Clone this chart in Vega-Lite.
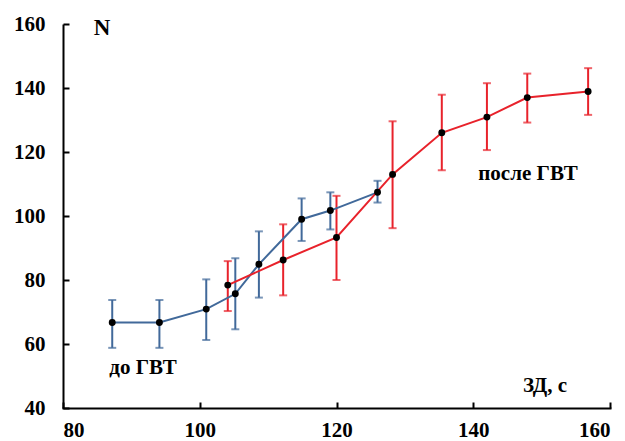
{
  "$schema": "https://vega.github.io/schema/vega-lite/v6.json",
  "width": 547,
  "height": 384,
  "autosize": {"type": "none"},
  "padding": {"left": 63, "top": 24, "right": 15, "bottom": 33},
  "background": "white",
  "config": {
    "view": {"stroke": null},
    "font": "Liberation Serif",
    "axis": {
      "grid": false,
      "domainColor": "black",
      "domainWidth": 2,
      "tickColor": "black",
      "tickWidth": 2,
      "labelFont": "Liberation Serif",
      "labelFontWeight": "bold",
      "labelFontSize": 21,
      "labelColor": "black",
      "title": null
    }
  },
  "datasets": {
    "pts": [
      {"series": "до ГВТ", "x": 87.2, "y": 66.7, "lo": 58.8, "hi": 73.75},
      {"series": "до ГВТ", "x": 94.1, "y": 66.7, "lo": 58.8, "hi": 73.75},
      {"series": "до ГВТ", "x": 100.95, "y": 70.9, "lo": 61.25, "hi": 80.2},
      {"series": "до ГВТ", "x": 105.2, "y": 75.7, "lo": 64.6, "hi": 86.8},
      {"series": "до ГВТ", "x": 108.65, "y": 84.9, "lo": 74.5, "hi": 95.2},
      {"series": "до ГВТ", "x": 114.9, "y": 99.0, "lo": 92.2, "hi": 105.5},
      {"series": "до ГВТ", "x": 119.1, "y": 101.7, "lo": 95.8, "hi": 107.4},
      {"series": "до ГВТ", "x": 126.0, "y": 107.4, "lo": 104.2, "hi": 111.0},
      {"series": "после ГВТ", "x": 104.1, "y": 78.4, "lo": 70.3, "hi": 85.9},
      {"series": "после ГВТ", "x": 112.2, "y": 86.25, "lo": 75.2, "hi": 97.4},
      {"series": "после ГВТ", "x": 120.0, "y": 93.3, "lo": 80.0, "hi": 106.3},
      {"series": "после ГВТ", "x": 128.2, "y": 113.0, "lo": 96.2, "hi": 129.6},
      {"series": "после ГВТ", "x": 135.4, "y": 126.0, "lo": 114.3, "hi": 137.9},
      {"series": "после ГВТ", "x": 142.0, "y": 130.9, "lo": 120.6, "hi": 141.5},
      {"series": "после ГВТ", "x": 147.9, "y": 137.0, "lo": 129.2, "hi": 144.5},
      {"series": "после ГВТ", "x": 156.8, "y": 138.9, "lo": 131.6, "hi": 146.2}
    ],
    "labels": [
      {"label": "до ГВТ", "x": 91.7, "y": 52.5},
      {"label": "после ГВТ", "x": 148.0, "y": 113.0},
      {"label": "ЗД, с", "x": 150.5, "y": 46.8}
    ],
    "title": [
      {"label": "N", "x": 85.7, "y": 158.7}
    ]
  },
  "layer": [
    {
      "data": {"name": "pts"},
      "mark": {"type": "rule", "strokeWidth": 2},
      "encoding": {
        "x": {"field": "x", "type": "quantitative", "scale": {"domain": [80, 160], "nice": false, "zero": false},
              "axis": {"values": [80, 100, 120, 140, 160], "tickSize": -6, "labelPadding": 17, "domainCap": "square"}},
        "y": {"field": "lo", "type": "quantitative", "scale": {"domain": [40, 160], "nice": false, "zero": false},
              "axis": {"values": [40, 60, 80, 100, 120, 140, 160], "tickSize": -6, "labelPadding": 24}},
        "y2": {"field": "hi"},
        "color": {"field": "series", "type": "nominal", "scale": {"domain": ["до ГВТ", "после ГВТ"], "range": ["#41699a", "#e8222b"]}, "legend": null}
      }
    },
    {
      "data": {"name": "pts"},
      "mark": {"type": "tick", "orient": "horizontal", "size": 8, "thickness": 2},
      "encoding": {
        "x": {"field": "x", "type": "quantitative"},
        "y": {"field": "lo", "type": "quantitative"},
        "color": {"field": "series", "type": "nominal", "legend": null}
      }
    },
    {
      "data": {"name": "pts"},
      "mark": {"type": "tick", "orient": "horizontal", "size": 8, "thickness": 2},
      "encoding": {
        "x": {"field": "x", "type": "quantitative"},
        "y": {"field": "hi", "type": "quantitative"},
        "color": {"field": "series", "type": "nominal", "legend": null}
      }
    },
    {
      "data": {"name": "pts"},
      "mark": {"type": "line", "strokeWidth": 2},
      "encoding": {
        "x": {"field": "x", "type": "quantitative"},
        "y": {"field": "y", "type": "quantitative"},
        "color": {"field": "series", "type": "nominal", "legend": null},
        "order": {"field": "x", "type": "quantitative"}
      }
    },
    {
      "data": {"name": "pts"},
      "mark": {"type": "point", "filled": true, "color": "black", "size": 48, "opacity": 1},
      "encoding": {
        "x": {"field": "x", "type": "quantitative"},
        "y": {"field": "y", "type": "quantitative"}
      }
    },
    {
      "data": {"name": "labels"},
      "mark": {"type": "text", "font": "Liberation Serif", "fontWeight": "bold", "fontSize": 21, "color": "black", "align": "center", "baseline": "middle"},
      "encoding": {
        "x": {"field": "x", "type": "quantitative"},
        "y": {"field": "y", "type": "quantitative"},
        "text": {"field": "label"}
      }
    },
    {
      "data": {"name": "title"},
      "mark": {"type": "text", "font": "Liberation Serif", "fontWeight": "bold", "fontSize": 23, "color": "black", "align": "center", "baseline": "middle"},
      "encoding": {
        "x": {"field": "x", "type": "quantitative"},
        "y": {"field": "y", "type": "quantitative"},
        "text": {"field": "label"}
      }
    }
  ]
}
